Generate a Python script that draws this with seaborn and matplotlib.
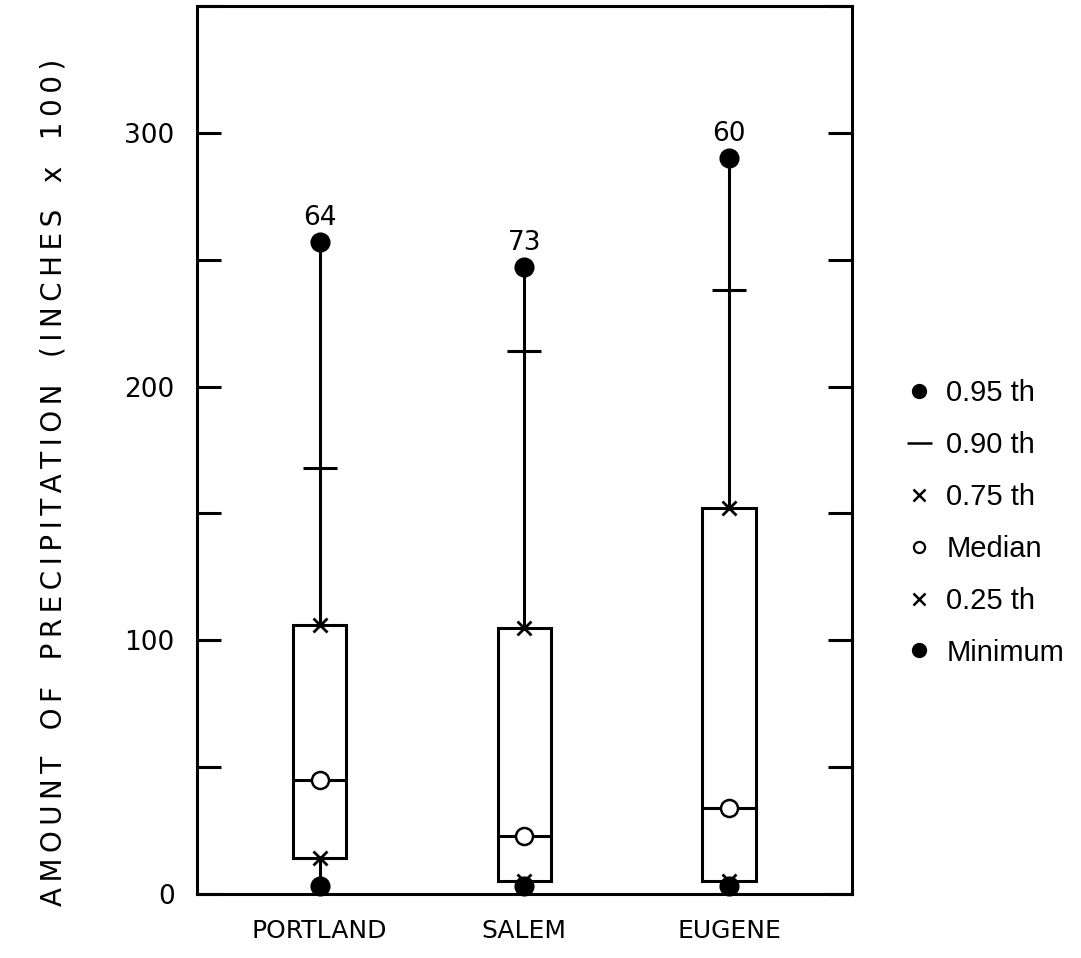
import numpy as np
import pandas as pd
import matplotlib
matplotlib.use("Agg")
import matplotlib.pyplot as plt
from matplotlib.lines import Line2D
import seaborn as sns

# values (inches x 100)
cities = ["PORTLAND", "SALEM", "EUGENE"]
n_obs = [64, 73, 60]
p95 = [257, 247, 290]
p90 = [168, 214, 238]
p75 = [106, 105, 152]
median = [45, 23, 34]
p25 = [14, 5, 5]
minimum = [3, 3, 3]

pos = np.arange(len(cities))
df = pd.DataFrame({"city": cities, "x": pos, "n": n_obs, "p95": p95, "p90": p90,
                   "p75": p75, "median": median, "p25": p25, "min": minimum})

sns.set_style("white")
plt.rcParams["font.family"] = ["DejaVu Sans"]
for k in ["text.color", "axes.labelcolor", "xtick.color", "ytick.color"]:
    plt.rcParams[k] = "black"

fig = plt.figure(figsize=(10.81, 9.58), dpi=100)
ax = fig.add_axes([0.182, 0.0668, 0.606, 0.927])

lw = 2.2
box_w = 0.26

# boxes between 25th and 75th percentile
ax.bar(df["x"], df["p75"] - df["p25"], bottom=df["p25"], width=box_w,
       fill=False, edgecolor="black", linewidth=lw, zorder=2)
# median line across the box
ax.hlines(df["median"], df["x"] - box_w / 2, df["x"] + box_w / 2,
          color="black", linewidth=lw, zorder=2)
# whiskers
ax.vlines(df["x"], df["p75"], df["p95"], color="black", linewidth=lw, zorder=1)
ax.vlines(df["x"], df["min"], df["p25"], color="black", linewidth=lw, zorder=1)

sns.scatterplot(data=df, x="x", y="p95", ax=ax, marker="o", s=180,
                color="black", edgecolor="black", zorder=4)
sns.scatterplot(data=df, x="x", y="min", ax=ax, marker="o", s=180,
                color="black", edgecolor="black", zorder=4, clip_on=False)
ax.plot(df["x"], df["p90"], linestyle="none", marker="_", markersize=24,
        markeredgewidth=lw, color="black", zorder=3)
for col in ["p75", "p25"]:
    ax.plot(df["x"], df[col], linestyle="none", marker="x", markersize=10,
            markeredgewidth=2.0, color="black", zorder=3)
sns.scatterplot(data=df, x="x", y="median", ax=ax, marker="o", s=150,
                color="white", edgecolor="black", linewidth=1.8, zorder=5)

for x, y, n in zip(df["x"], df["p95"], df["n"]):
    ax.annotate(str(n), (x, y), xytext=(0, 8), textcoords="offset points",
                ha="center", va="bottom", fontsize=19)

ax.set_xlim(-0.6, 2.6)
ax.set_ylim(0, 350)
ax.set_xticks(pos)
ax.set_xticklabels(cities, fontsize=18)
ax.set_yticks(np.arange(0, 351, 50))
ax.set_yticklabels([str(v) if v % 100 == 0 else "" for v in range(0, 351, 50)],
                   fontsize=19)
ax.tick_params(axis="y", direction="in", length=17, width=lw, pad=16,
               left=True, right=True)
ax.tick_params(axis="x", length=0, pad=18)
ax.set_xlabel("")

# letter-spaced axis title, as in the original typesetting
words = ["AMOUNT", "OF", "PRECIPITATION", "(INCHES", "x", "100)"]
title = "   ".join("\u2009".join(w) for w in words)
ax.set_ylabel(title, fontsize=20)
ax.yaxis.set_label_coords(-0.198, 0.464)
for s in ax.spines.values():
    s.set_linewidth(lw)
    s.set_color("black")

handles = [
    Line2D([], [], linestyle="none", marker="o", markersize=10, color="black"),
    Line2D([], [], linestyle="none", marker="_", markersize=18,
           markeredgewidth=1.8, color="black"),
    Line2D([], [], linestyle="none", marker="x", markersize=8,
           markeredgewidth=1.8, color="black"),
    Line2D([], [], linestyle="none", marker="o", markersize=8,
           markerfacecolor="white", markeredgecolor="black", markeredgewidth=1.6),
    Line2D([], [], linestyle="none", marker="x", markersize=8,
           markeredgewidth=1.8, color="black"),
    Line2D([], [], linestyle="none", marker="o", markersize=10, color="black"),
]
labels = ["0.95 th", "0.90 th", "0.75 th", "Median", "0.25 th", "Minimum"]
fig.legend(handles, labels, loc="upper left", bbox_to_anchor=(0.8255, 0.6165),
           frameon=False, handlelength=1.0, handletextpad=0.45,
           labelspacing=0.82, borderaxespad=0,
           prop={"family": "Liberation Sans", "size": 21})

fig.savefig("out.png", dpi=100)
